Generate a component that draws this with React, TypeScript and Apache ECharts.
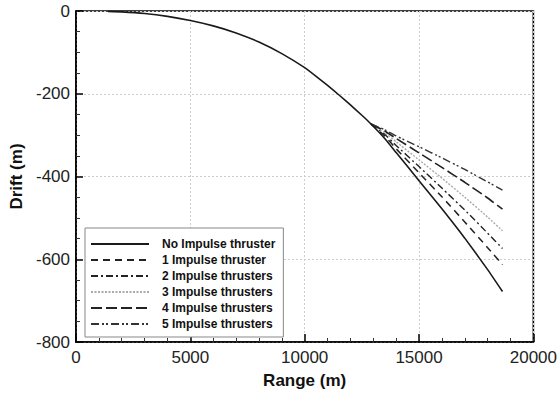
import React, { useEffect, useRef } from "react";
import * as echarts from "echarts";

const trunkRange = [1400, 2000, 3000, 4000, 5000, 6000, 7000, 8000, 9000, 10000, 10500, 11000, 11500, 12000, 12500, 12900];
const trunkDrift = [-1, -2, -6, -13, -23, -36, -53, -75, -103, -137, -158, -180, -203, -227, -252, -273];

const tailRange = [13500, 14000, 15000, 16000, 17000, 18000, 18650];
const driftNone = [-308, -342, -410, -478, -549, -625, -678];
const drift1 = [-302, -333, -391, -449, -510, -572, -613];
const drift2 = [-298, -325, -376, -428, -481, -537, -574];
const drift3 = [-294, -316, -360, -404, -450, -498, -531];
const drift4 = [-290, -308, -343, -378, -414, -452, -479];
const drift5 = [-287, -302, -328, -355, -383, -413, -433];

const seriesNames = [
  "No Impulse thruster",
  "1 Impulse thruster",
  "2 Impulse thrusters",
  "3 Impulse thrusters",
  "4 Impulse thrusters",
  "5 Impulse thrusters",
];

const xTicks = [0, 5000, 10000, 15000, 20000];
const yTicks = [0, -200, -400, -600, -800];

export default function App() {
  const ref = useRef<HTMLDivElement>(null);
  useEffect(() => {
    if (!ref.current) return;
    const chart = echarts.init(ref.current, undefined, { renderer: "svg" });
    const lastTrunk = trunkRange.length - 1;
    const tails = [driftNone, drift1, drift2, drift3, drift4, drift5];
    const styles: any[] = [
      { color: "#1a1a1a", width: 1.6, type: "solid" },
      { color: "#222", width: 1.5, type: [7, 5] },
      { color: "#222", width: 1.4, type: [7, 3, 2, 3] },
      { color: "#aaa", width: 1.4, type: [2, 1.5] },
      { color: "#222", width: 1.6, type: [11, 4] },
      { color: "#333", width: 1.4, type: [8, 3, 2, 2, 2, 3] },
    ];
    const series = tails.map((tail, i) => {
      const data: number[][] = [];
      if (i === 0) {
        trunkRange.forEach((x, k) => data.push([x, trunkDrift[k]]));
      } else {
        data.push([trunkRange[lastTrunk], trunkDrift[lastTrunk]]);
      }
      tailRange.forEach((x, k) => data.push([x, tail[k]]));
      return {
        name: seriesNames[i],
        type: "line",
        data,
        symbol: "none",
        smooth: 0.15,
        z: i === 0 ? 3 : 2,
        lineStyle: styles[i],
        itemStyle: { color: styles[i].color },
      };
    });
    const font = "Liberation Sans, Arial, sans-serif";
    chart.setOption({
      animation: false,
      backgroundColor: "#fff",
      grid: {
        left: 76,
        top: 11,
        right: 25,
        bottom: 44,
        show: true,
        borderColor: "#000",
        borderWidth: 1.6,
        backgroundColor: "transparent",
      },
      legend: {
        orient: "vertical",
        left: 85,
        top: 228,
        width: 203,
        backgroundColor: "#fff",
        borderColor: "#888",
        borderWidth: 1,
        borderRadius: 0,
        padding: [9, 8, 6, 5],
        itemWidth: 58,
        itemHeight: 12,
        itemGap: 2,
        itemStyle: { opacity: 0 },
        textStyle: {
          fontFamily: font,
          fontWeight: "bold",
          fontSize: 12,
          color: "#111",
          lineHeight: 14,
          padding: [0, 0, 0, 8],
        },
        data: seriesNames,
      },
      xAxis: {
        type: "value",
        min: xTicks[0],
        max: xTicks[xTicks.length - 1],
        interval: 5000,
        name: "Range (m)",
        nameLocation: "middle",
        nameGap: 30,
        nameTextStyle: { fontFamily: font, fontWeight: "bold", fontSize: 17, color: "#111" },
        axisLine: { show: true, onZero: false, lineStyle: { color: "#000", width: 1.6 } },
        axisTick: { show: true, inside: true, length: 8, lineStyle: { color: "#000", width: 1.5 } },
        minorTick: { show: true, splitNumber: 5, length: 4, lineStyle: { color: "#333", width: 1 } },
        axisLabel: {
          fontFamily: font,
          fontSize: 17,
          color: "#222",
          margin: 7,
          formatter: (v: number) => String(v),
        },
        splitLine: { show: true, lineStyle: { color: "#ccc", type: [2, 2], width: 1 } },
      },
      yAxis: {
        type: "value",
        min: yTicks[yTicks.length - 1],
        max: yTicks[0],
        interval: 200,
        name: "Drift (m)",
        nameLocation: "middle",
        nameGap: 50,
        nameTextStyle: { fontFamily: font, fontWeight: "bold", fontSize: 17, color: "#111" },
        axisLine: { show: true, onZero: false, lineStyle: { color: "#000", width: 1.6 } },
        axisTick: { show: true, inside: true, length: 7, lineStyle: { color: "#000", width: 1.5 } },
        minorTick: { show: true, splitNumber: 4, length: 4, lineStyle: { color: "#333", width: 1 } },
        axisLabel: {
          fontFamily: font,
          fontSize: 17,
          color: "#222",
          margin: 6,
          formatter: (v: number) => String(v),
        },
        splitLine: { show: true, lineStyle: { color: "#ccc", type: [2, 2], width: 1 } },
      },
      series,
    });
    return () => chart.dispose();
  }, []);
  return (
    <div
      ref={ref}
      style={{ position: "fixed", left: 0, top: 0, width: 560, height: 394, background: "#fff" }}
    />
  );
}
